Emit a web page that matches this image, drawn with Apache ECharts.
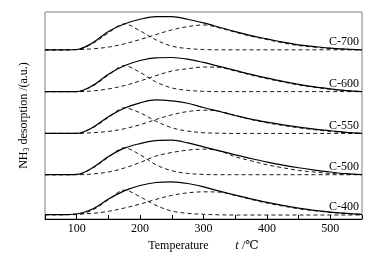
<!DOCTYPE html>
<html>
<head>
<meta charset="utf-8">
</head>
<body style="margin: 0">
<div id="container" style="width: 380px; height: 258px;"></div>
<script src="https://cdn.jsdelivr.net/npm/echarts@6/dist/echarts.min.js"></script>
<script>
var temps = [50, 75, 100, 125, 150, 175, 200, 225, 250, 275, 300, 325, 350, 375, 400, 425, 450, 475, 500, 525, 550];

var samples = ['C-700', 'C-600', 'C-550', 'C-500', 'C-400'];
// vertical offset of every trace (a.u.)
var baselines = [170, 128, 86, 44.5, 4];

// measured profiles (solid)
var total700 = [0, 0, 0.3, 7, 18.5, 26, 30.7, 33.3, 33.3, 30.7, 27, 22.7, 18.3, 14.3, 11, 7.7, 5, 3.3, 1.7, 0.7, 0];
var total600 = [0, 0, 0, 6, 17.5, 26, 31.3, 34, 34.3, 32.7, 29.3, 25.3, 21.3, 17.3, 13.7, 10.3, 7.3, 4.7, 2.7, 1, 0];
var total550 = [0, 0, 0, 6, 16.8, 25.3, 30.7, 33.7, 32.7, 30.3, 26, 22, 18, 14.3, 11.3, 8.7, 6.3, 4.3, 2.7, 1, 0];
var total500 = [0, 0, 0.3, 7, 18.2, 26.7, 31.3, 34.3, 34.7, 32, 28, 24, 20, 16.3, 12.7, 9.7, 7, 4.7, 2.7, 1, 0];
var total400 = [0.3, 0.3, 1, 6, 16, 24.3, 29.7, 32.7, 33.3, 31.7, 28.3, 24, 20, 16.3, 12.7, 9.7, 7, 4.7, 3, 1.7, 0.7];

// low temperature peak (dashed)
var low700 = [0, 0, 0.3, 6.3, 17, 26, 19, 10, 3.7, 1.3, 0.3, 0, 0, 0, 0, 0, 0, 0, 0, 0, 0];
var low600 = [0, 0, 0, 5.5, 16.5, 26, 19.3, 9.7, 3.7, 1.3, 0.3, 0, 0, 0, 0, 0, 0, 0, 0, 0, 0];
var low550 = [0, 0, 0, 5.5, 16, 25.7, 20.7, 12.3, 5.7, 2.3, 0.7, 0.2, 0, 0, 0, 0, 0, 0, 0, 0, 0];
var low500 = [0, 0, 0.3, 6.5, 17.5, 27, 20, 10, 4, 1.3, 0.3, 0, 0, 0, 0, 0, 0, 0, 0, 0, 0];
var low400 = [0.3, 0.3, 0.5, 5, 15.3, 25, 18.3, 9.7, 4, 1.7, 0.7, 0.2, 0, 0, 0, 0, 0, 0, 0, 0, 0];

// high temperature peak (dashed)
var high700 = [0, 0, 0.2, 1, 2.7, 6, 10.3, 15.3, 20, 23.3, 25, 22, 17.7, 13.7, 10.3, 7, 4.3, 2.7, 1.3, 0.5, 0];
var high600 = [0, 0, 0, 0.7, 2.7, 6, 10.7, 16, 20.7, 23, 24.7, 24.3, 20.7, 16.7, 13, 9.7, 6.7, 4.3, 2.3, 1, 0];
var high550 = [0, 0, 0, 0.7, 2, 4.7, 8.7, 14, 18.7, 22, 23.3, 22.3, 18, 14, 10.7, 8, 5.7, 3.7, 2, 0.7, 0];
var high500 = [0, 0, 0, 0.7, 2.7, 6.7, 12.3, 18.7, 22.3, 24.7, 25.7, 24, 18, 14, 10, 7, 4.3, 2.7, 1.3, 0.5, 0];
var high400 = [0.3, 0.3, 1, 1.7, 3.7, 7, 11, 15.7, 19.7, 22.3, 23.3, 23, 19.7, 15.7, 12, 9, 6.3, 4.3, 2.7, 1.7, 0.7];

var totals = [total700, total600, total550, total500, total400];
var lows = [low700, low600, low550, low500, low400];
var highs = [high700, high600, high550, high500, high400];

var FONT = '"Liberation Serif", "DejaVu Serif", serif';

var myChart = echarts.init(document.getElementById('container'));

function toPoints(arr, base) {
    return arr.map(function (v, k) {
        return [temps[k], base + v];
    });
}

var series = [];
samples.forEach(function (name, i) {
    var base = baselines[i];
    series.push({
        name: name,
        type: 'line',
        smooth: 0.35,
        symbol: 'none',
        lineStyle: {color: '#000', width: 1.2},
        z: 3,
        data: toPoints(totals[i], base),
        markPoint: {
            symbol: 'circle',
            symbolSize: 0,
            silent: true,
            data: [{coord: [550, base], name: name}],
            label: {
                show: true,
                formatter: name,
                position: 'left',
                distance: 3,
                offset: [0, -8],
                color: '#000',
                fontFamily: FONT,
                fontSize: 12
            }
        }
    });
    [lows[i], highs[i]].forEach(function (arr) {
        series.push({
            type: 'line',
            smooth: 0.35,
            symbol: 'none',
            lineStyle: {color: '#000', width: 0.9, type: [4, 3]},
            z: 2,
            data: toPoints(arr, base)
        });
    });
});

var option = {
    animation: false,
    grid: {
        left: 45, right: 18, top: 12, bottom: 39,
        show: true,
        borderColor: '#808080',
        borderWidth: 1
    },
    xAxis: {
        type: 'value',
        min: 50,
        max: 550,
        interval: 50,
        name: '{n|Temperature}        {i|t} {n|/℃}',
        nameLocation: 'middle',
        nameGap: 19,
        nameTextStyle: {
            rich: {
                n: {fontFamily: FONT, fontSize: 12, color: '#000'},
                i: {fontFamily: FONT, fontSize: 12, fontStyle: 'italic', color: '#000'}
            }
        },
        axisLine: {lineStyle: {color: '#000', width: 1}},
        axisTick: {inside: true, length: 4, lineStyle: {color: '#000'}},
        axisLabel: {
            color: '#000',
            fontFamily: FONT,
            fontSize: 12,
            margin: 4,
            formatter: function (v) {
                return v % 100 === 0 ? v : '';
            }
        },
        splitLine: {show: false}
    },
    yAxis: {
        type: 'value',
        min: 0,
        max: 208,
        name: '{n|NH}{s|3}{n| desorption /(a.u.)}',
        nameLocation: 'middle',
        nameGap: 14,
        nameTextStyle: {
            rich: {
                n: {fontFamily: FONT, fontSize: 12, color: '#000'},
                s: {fontFamily: FONT, fontSize: 8, color: '#000', padding: [7, 0, 0, 0]}
            }
        },
        axisLine: {show: false},
        axisTick: {show: false},
        axisLabel: {show: false},
        splitLine: {show: false}
    },
    series: series
};

myChart.setOption(option);
</script>
</body>
</html>
